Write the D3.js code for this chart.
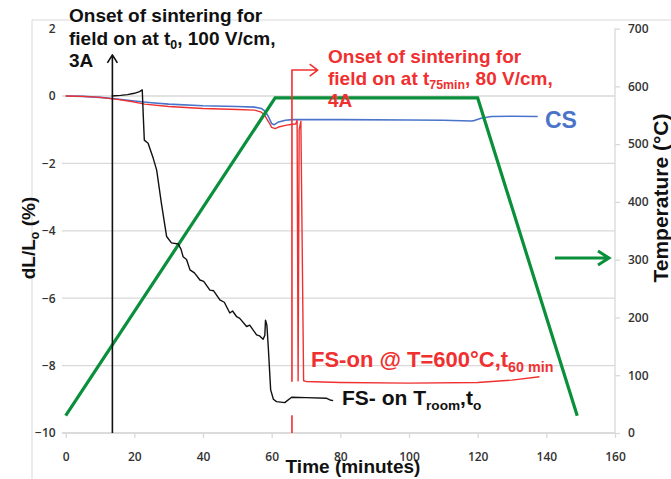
<!DOCTYPE html>
<html>
<head>
<meta charset="utf-8">
<script src="https://cdn.jsdelivr.net/npm/d3@7"></script>
<style>
  html, body { margin: 0; padding: 0; background: #fff; }
  svg { display: block; }
  .tick-label { font-family: "Open Sans", sans-serif; font-size: 12px; font-weight: 600; fill: #333; }
  .title { font-family: "Liberation Sans", Arial, sans-serif; font-weight: bold; }
</style>
</head>
<body>
<svg id="chart" width="671" height="479"></svg>
<script>
// Axis ticks
const timeTicks = [0, 20, 40, 60, 80, 100, 120, 140, 160];
const strainTicks = [2, 0, -2, -4, -6, -8, -10];
const tempTicks = [0, 100, 200, 300, 400, 500, 600, 700];

// Furnace temperature program (°C vs minutes)
const tempTime = [0, 61, 120, 149];
const tempValue = [30, 580, 580, 30];

// Conventional sintering (CS), dL/Lo %
const csTime = [0, 5, 10, 15, 20, 25, 30, 40, 50, 55, 57, 58, 59, 60, 60.8, 62, 64, 66, 80, 100, 110, 118, 119, 121, 124, 130, 137.5];
const csStrain = [0, -0.01, -0.04, -0.09, -0.15, -0.2, -0.24, -0.29, -0.31, -0.33, -0.37, -0.45, -0.6, -0.82, -0.85, -0.77, -0.72, -0.7, -0.7, -0.71, -0.72, -0.74, -0.73, -0.66, -0.61, -0.6, -0.61];

// Field switched on at 600 °C (t = 60 min)
const fs600Time = [0, 5, 10, 15, 20, 23, 30, 40, 50, 55, 57, 58, 59, 60, 61, 62, 64, 66, 67, 67.4, 67.7, 68.0, 68.5, 69.3, 70, 80, 100, 120, 130, 138];
const fs600Strain = [0, -0.01, -0.04, -0.1, -0.18, -0.24, -0.31, -0.37, -0.4, -0.42, -0.48, -0.58, -0.75, -0.93, -0.97, -0.92, -0.87, -0.84, -0.83, -0.72, -8.45, -1.0, -0.75, -8.45, -8.47, -8.5, -8.52, -8.5, -8.43, -8.33];

// Field switched on at room temperature (t0)
const fsRoomTime = [13.4, 16, 18, 20, 21.5, 22.3, 22.6, 22.9, 24, 25.5, 26.5, 27.9, 29.4, 30.8, 32.8, 33.6, 34.2, 35.2, 36.2, 37.5, 39.1, 40.2, 42, 43.1, 44.9, 46.2, 47.8, 48.6, 49.8, 50.7, 52.7, 53.6, 55.6, 56.5, 57.5, 58.0, 58.2, 58.6, 59, 59.7, 60.5, 61.4, 63.8, 65.8, 70, 76, 77, 77.9];
const fsRoomStrain = [0, 0.02, 0.04, 0.08, 0.13, 0.18, -0.6, -1.31, -1.4, -1.85, -2.2, -3.2, -4.17, -4.36, -4.39, -4.55, -4.77, -4.85, -5.16, -5.25, -5.46, -5.5, -5.76, -5.78, -6.05, -6.12, -6.44, -6.38, -6.55, -6.6, -6.84, -6.8, -7.09, -7.12, -7.22, -7.1, -6.65, -6.8, -7.44, -8.72, -9.0, -9.07, -9.1, -8.94, -8.95, -8.97, -9.02, -9.04];

const svg = d3.select("#chart");

const x = d3.scaleLinear().domain([0, 160]).range([65.7, 615]);
const yL = d3.scaleLinear().domain([-10, 2]).range([433, 28.6]);
const yR = d3.scaleLinear().domain([0, 700]).range([433, 28.6]);

// Outer chart frame (top and left edges)
svg.append("path")
  .attr("d", "M32,479 V20 H671")
  .attr("fill", "none").attr("stroke", "#d9d9d9").attr("stroke-width", 1);

// Horizontal gridlines
svg.append("g").selectAll("line").data(strainTicks.filter(d => d !== 2)).join("line")
  .attr("x1", 62).attr("x2", x(160))
  .attr("y1", d => yL(d)).attr("y2", d => yL(d))
  .attr("stroke", "#d9d9d9").attr("stroke-width", 1.3);

// Bottom axis
const xAxis = d3.axisBottom(x).tickValues(timeTicks).tickSize(5).tickPadding(14).tickFormat(d3.format("d"));
const gx = svg.append("g").attr("transform", `translate(0,${yL(-10)})`).call(xAxis);
gx.select(".domain").attr("stroke", "#d9d9d9").attr("stroke-width", 1.3).attr("d", `M62,0H${x(160)}`);
gx.selectAll(".tick line").attr("stroke", "#d9d9d9").attr("stroke-width", 1.3);
gx.selectAll(".tick text").attr("class", "tick-label").attr("fill", null);

// Left axis (labels only)
const yAxisL = d3.axisLeft(yL).tickValues(strainTicks).tickSize(0).tickPadding(10).tickFormat(d3.format("d"));
const gyl = svg.append("g").attr("transform", `translate(${x(0)},0)`).call(yAxisL);
gyl.select(".domain").remove();
gyl.selectAll(".tick text").attr("class", "tick-label").attr("fill", null);

// Right axis
const yAxisR = d3.axisRight(yR).tickValues(tempTicks).tickSize(5).tickPadding(8).tickFormat(d3.format("d"));
const gyr = svg.append("g").attr("transform", `translate(${x(160)},0)`).call(yAxisR);
gyr.select(".domain").attr("stroke", "#d9d9d9").attr("stroke-width", 1.3).attr("d", `M0,${yR(700)}V${yR(0)}`);
gyr.selectAll(".tick line").attr("stroke", "#d9d9d9").attr("stroke-width", 1.3);
gyr.selectAll(".tick text").attr("class", "tick-label").attr("fill", null);

const lineL = d3.line().x(d => x(d[0])).y(d => yL(d[1]));
const lineR = d3.line().x(d => x(d[0])).y(d => yR(d[1]));
const zip = (a, b) => a.map((v, i) => [v, b[i]]);

// CS curve
svg.append("path").datum(zip(csTime, csStrain)).attr("d", lineL)
  .attr("fill", "none").attr("stroke", "#4a74c9").attr("stroke-width", 1.6).attr("stroke-linejoin", "round");

// FS at 600 °C
svg.append("path").datum(zip(fs600Time, fs600Strain)).attr("d", lineL)
  .attr("fill", "none").attr("stroke", "#f03030").attr("stroke-width", 1.4).attr("stroke-linejoin", "round");

// Temperature program
svg.append("path").datum(zip(tempTime, tempValue)).attr("d", lineR)
  .attr("fill", "none").attr("stroke", "#0a8f3a").attr("stroke-width", 3.2).attr("stroke-linejoin", "miter");

// FS at room temperature
svg.append("path").datum(zip(fsRoomTime, fsRoomStrain)).attr("d", lineL)
  .attr("fill", "none").attr("stroke", "#111").attr("stroke-width", 1.4).attr("stroke-linejoin", "round");

// Onset marker for field at t0 (black arrow)
const onsetT0 = 13.6;
svg.append("path")
  .attr("d", `M${x(onsetT0)},${yL(-10)} V${yL(1.22)} M${x(onsetT0) - 5},${yL(1.22) + 8} L${x(onsetT0)},${yL(1.22)} L${x(onsetT0) + 5},${yL(1.22) + 8}`)
  .attr("fill", "none").attr("stroke", "#111").attr("stroke-width", 1.6).attr("stroke-linejoin", "round");

// Onset marker for field at t75min (red elbow arrow, broken around the curves)
const onsetT75 = 65.9, elbowV = 0.77, arrowEnd = 73.4;
svg.append("path")
  .attr("d", `M${x(onsetT75)},${yL(-10)} V${yL(-9.47)} M${x(onsetT75)},${yL(-8.48)} V${yL(elbowV)} H${x(arrowEnd)} M${x(arrowEnd) - 8},${yL(elbowV) - 6} L${x(arrowEnd)},${yL(elbowV)} L${x(arrowEnd) - 8},${yL(elbowV) + 6}`)
  .attr("fill", "none").attr("stroke", "#f03030").attr("stroke-width", 1.6).attr("stroke-linejoin", "round");

// Green arrow pointing to the temperature axis
svg.append("path")
  .attr("d", "M555,258 H609 M598,251 L609,258 L598,265")
  .attr("fill", "none").attr("stroke", "#0a8f3a").attr("stroke-width", 3).attr("stroke-linejoin", "miter");

// Text helpers
function label(xp, yp, parts, size, color, anchor) {
  const t = svg.append("text").attr("class", "title").attr("x", xp).attr("y", yp)
    .attr("font-size", size).attr("fill", color).attr("text-anchor", anchor || "start");
  parts.forEach(p => {
    const s = t.append("tspan").text(p.text);
    if (p.sub) s.attr("font-size", size * 0.65).attr("dy", size * 0.22);
    if (p.back) s.attr("dy", -size * 0.22);
  });
  return t;
}

// Black annotation
label(69, 22, [{text: "Onset of sintering for"}], 19, "#111");
label(69, 44.5, [{text: "field on at t"}, {text: "0", sub: true}, {text: ", 100 V/cm,", back: true}], 19, "#111");
label(69, 67, [{text: "3A"}], 19, "#111");

// Red annotation
label(328, 63, [{text: "Onset of sintering for"}], 19, "#f03030");
label(328, 85, [{text: "field on at t"}, {text: "75min", sub: true}, {text: ", 80 V/cm,", back: true}], 19, "#f03030");
label(328, 107, [{text: "4A"}], 19, "#f03030");

// Series labels
label(545, 128, [{text: "CS"}], 23, "#4a74c9");
label(311, 367, [{text: "FS-on @ T=600°C,t"}, {text: "60 min", sub: true}], 22, "#f03030");
label(342, 405, [{text: "FS- on T"}, {text: "room", sub: true}, {text: ",t", back: true}, {text: "o", sub: true}], 21, "#111");

// Axis titles
label(353, 473, [{text: "Time (minutes)"}], 19, "#111", "middle");
label(0, 0, [{text: "dL/L"}, {text: "o", sub: true}, {text: " (%)", back: true}], 19, "#111", "middle")
  .attr("transform", "translate(35,238) rotate(-90)");
label(0, 0, [{text: "Temperature (°C)"}], 21, "#111", "middle")
  .attr("transform", "translate(668,198) rotate(-90)");
</script>
</body>
</html>
